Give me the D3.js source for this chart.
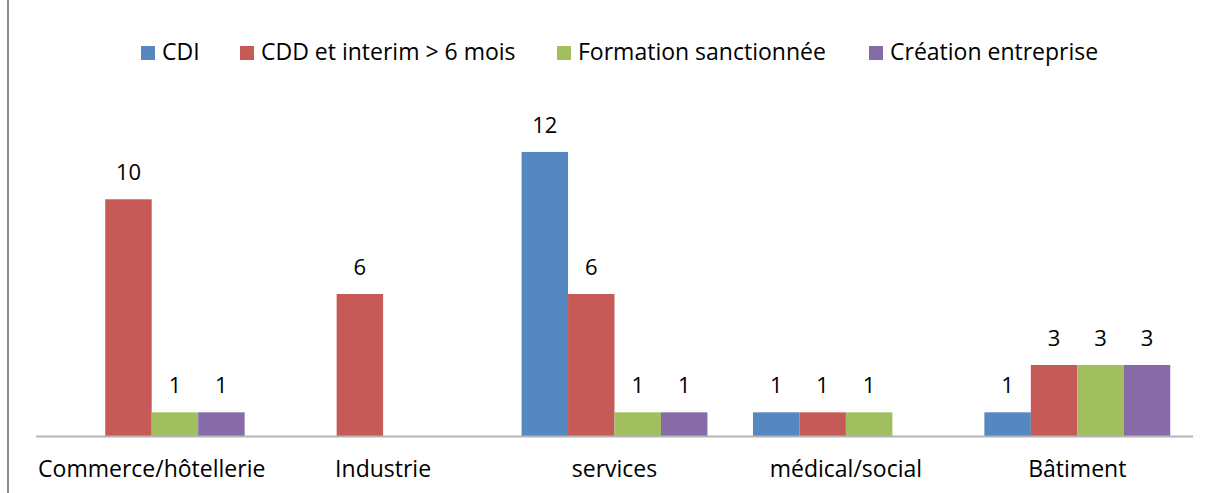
<!DOCTYPE html>
<html>
<head>
<meta charset="utf-8">
<script src="https://cdn.jsdelivr.net/npm/d3@7"></script>
<style>
  body { margin: 0; background: #fff; }
  svg text { font-family: "Open Sans", sans-serif; fill: #000; }
</style>
</head>
<body>
<div id="chart"></div>
<script>
var categories = ["Commerce/hôtellerie", "Industrie", "services", "médical/social", "Bâtiment"];
var seriesNames = ["CDI", "CDD et interim > 6 mois", "Formation sanctionnée", "Création entreprise"];
var colors = ["#5587C0", "#C65A56", "#A2BF5F", "#876AA8"];
// null = pas de barre
var cdi = [null, null, 12, 1, 1];
var cdd = [10, 6, 6, 1, 3];
var formation = [1, null, 1, 1, 3];
var creation = [1, null, 1, null, 3];
var series = [cdi, cdd, formation, creation];

var width = 1208, height = 493;
var svg = d3.select("#chart").append("svg")
    .attr("width", width)
    .attr("height", height);

// left border of the frame
svg.append("line")
    .attr("x1", 8).attr("x2", 8)
    .attr("y1", 0).attr("y2", height)
    .attr("stroke", "#8c8c8c")
    .attr("stroke-width", 2);

var x0 = d3.scaleBand()
    .domain(categories)
    .range([36, 1193])
    .paddingInner(0)
    .paddingOuter(0);

var x1 = d3.scaleBand()
    .domain(d3.range(series.length))
    .range([0, x0.bandwidth()])
    .paddingInner(0)
    .paddingOuter(0.49);

var y = d3.scaleLinear()
    .domain([0, 14])
    .range([436, 104.6]);

var groups = svg.selectAll("g.cat")
    .data(categories)
    .enter().append("g")
    .attr("class", "cat")
    .attr("transform", function(d) { return "translate(" + x0(d) + ",0)"; });

groups.each(function(cat, ci) {
    var g = d3.select(this);
    series.forEach(function(s, si) {
        var v = s[ci];
        if (v == null) return;
        g.append("rect")
            .attr("x", x1(si))
            .attr("y", y(v))
            .attr("width", x1.bandwidth())
            .attr("height", y(0) - y(v))
            .attr("fill", colors[si]);
        g.append("text")
            .attr("x", x1(si) + x1.bandwidth() / 2)
            .attr("y", y(v) - 19)
            .attr("text-anchor", "middle")
            .style("font-size", "22px")
            .text(v);
    });
});

// x axis line
svg.append("line")
    .attr("x1", 36).attr("x2", 1193)
    .attr("y1", 436.5).attr("y2", 436.5)
    .attr("stroke", "#b4b4b4")
    .attr("stroke-width", 2);

var xAxis = svg.append("g")
    .attr("transform", "translate(0,436)")
    .call(d3.axisBottom(x0).tickSize(0).tickPadding(25));
xAxis.select(".domain").remove();
xAxis.selectAll("text")
    .style("font-size", "23px")
    .style("font-family", "Open Sans, sans-serif")
    .attr("fill", "#000");

// legend
var legendX = [141, 240, 557, 869];
var legend = svg.selectAll("g.leg")
    .data(seriesNames)
    .enter().append("g")
    .attr("class", "leg")
    .attr("transform", function(d, i) { return "translate(" + legendX[i] + ",46)"; });
legend.append("rect")
    .attr("width", 14).attr("height", 14)
    .attr("fill", function(d, i) { return colors[i]; });
legend.append("text")
    .attr("x", 21)
    .attr("y", 14)
    .style("font-size", "23px")
    .text(function(d) { return d; });
</script>
</body>
</html>
